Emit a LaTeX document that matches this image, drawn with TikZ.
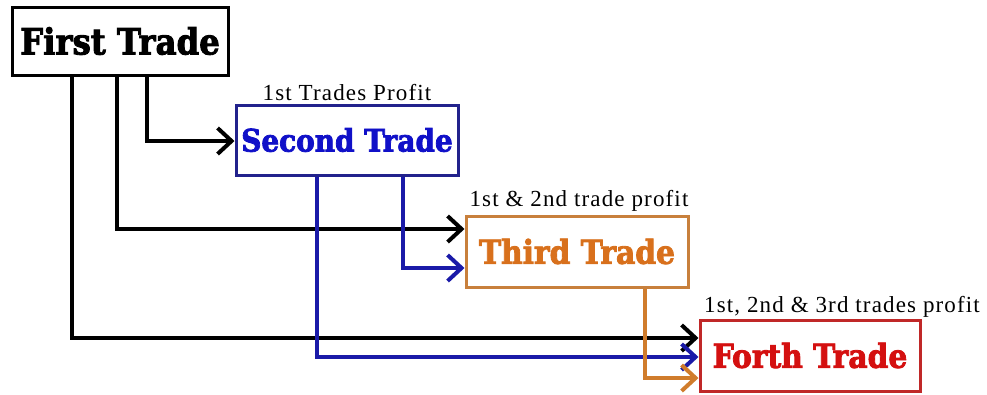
\documentclass[tikz,border=0pt]{standalone}
\usepackage{fontspec}
\setmainfont{Liberation Serif}[LetterSpace=5]
\newfontfamily\titlefont[FakeBold=2.5]{DejaVu Serif Condensed Bold}
\usetikzlibrary{arrows.meta}
\definecolor{navyline}{HTML}{1A1AA8}
\definecolor{navybox}{HTML}{22228C}
\definecolor{bluetext}{HTML}{1010C8}
\definecolor{orgbox}{HTML}{C8803C}
\definecolor{orgline}{HTML}{D07C2C}
\definecolor{orgtext}{HTML}{D8701C}
\definecolor{redbox}{HTML}{C02828}
\definecolor{redtext}{HTML}{D41010}
\begin{document}
\begin{tikzpicture}[x=1pt,y=-1pt,
  tradebox/.style={draw,line width=3pt,rectangle,inner sep=0pt,font=\titlefont\fontsize{33}{34}\selectfont},
  lbl/.style={font=\fontsize{23}{24}\selectfont,inner sep=0pt,anchor=base},
  conn/.style={line width=4pt,-{Straight Barb[length=14pt,width=26pt,line width=4pt]}}
]
\useasboundingbox (0,0) rectangle (987,394);
\node[tradebox,minimum width=216pt,minimum height=68pt,font=\titlefont\fontsize{36}{37}\selectfont] (first) at (120,41) {First Trade};
\node[tradebox,draw=navybox,text=bluetext,minimum width=222pt,minimum height=70pt,font=\titlefont\fontsize{31}{32}\selectfont] (second) at (347,140) {Second Trade};
\node[tradebox,draw=orgbox,text=orgtext,minimum width=222pt,minimum height=71pt,font=\titlefont\fontsize{33}{34}\selectfont] (third) at (577,251.5) {Third Trade};
\node[tradebox,draw=redbox,text=redtext,minimum width=220pt,minimum height=71pt] (forth) at (810,355.5) {Forth Trade};
\node[lbl] (l2) at (347,100) {1st Trades Profit};
\node[lbl] (l3) at (579,206) {1st \& 2nd trade profit};
\node[lbl] (l4) at (842,312) {1st, 2nd \& 3rd trades profit};
\draw[conn] (first.south -| 147,0) |- (second.west |- 0,141);
\draw[conn] (first.south -| 117,0) |- (third.west |- 0,229);
\draw[conn] (first.south -| 72,0) |- (forth.west |- 0,338);
\draw[conn,navyline] (second.south -| 403,0) |- (third.west |- 0,268);
\draw[conn,navyline] (second.south -| 317,0) |- (forth.west |- 0,357);
\draw[conn,orgline] (third.south -| 645,0) |- (forth.west |- 0,378);
\end{tikzpicture}
\end{document}
